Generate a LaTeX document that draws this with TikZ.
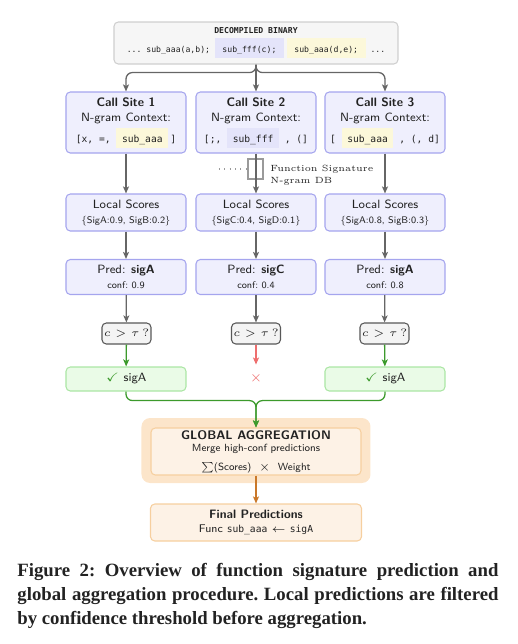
\documentclass[tikz,border=0pt]{standalone}
\usepackage{amssymb}
\usepackage{fontspec}
\setmonofont{DejaVu Sans Mono}
\newfontfamily\capfont{Liberation Serif}
\usetikzlibrary{arrows.meta}

\definecolor{ink}{HTML}{222222}
\definecolor{binFill}{HTML}{F6F6F6}
\definecolor{binEdge}{HTML}{CFCFCF}
\definecolor{siteFill}{HTML}{EFEFFD}
\definecolor{siteEdge}{HTML}{A5A5EE}
\definecolor{hlBlue}{HTML}{E4E4FA}
\definecolor{hlYellow}{HTML}{FCF8DA}
\definecolor{threshFill}{HTML}{F4F4F4}
\definecolor{threshEdge}{HTML}{585858}
\definecolor{okFill}{HTML}{EAFBE7}
\definecolor{okEdge}{HTML}{ABE6A4}
\definecolor{okGreen}{HTML}{3C9A2C}
\definecolor{rejRed}{HTML}{EE6E6E}
\definecolor{aggOuter}{HTML}{FCE5CA}
\definecolor{aggFill}{HTML}{FDF2E6}
\definecolor{aggEdge}{HTML}{F6CF9F}
\definecolor{outOrange}{HTML}{C9782A}
\definecolor{flowGray}{HTML}{666666}
\definecolor{dbGray}{HTML}{9A9A9A}

\newlength\unitpx
\setlength\unitpx{0.4667pt}
\newcommand\hlbox[3][2.6pt]{{\setlength\fboxsep{0pt}\colorbox{#2}{\hspace{#1}\rule[-2.6pt]{0pt}{9.3pt}#3\hspace{#1}}}}
\newcommand\ctxfont{\ttfamily\fontsize{4.5}{5.5}\selectfont}
\newcommand\smallsf{\fontsize{4.5}{5.5}\selectfont}
\newcommand\titlesf{\bfseries\fontsize{5.7}{7}\selectfont}

\begin{document}
\begin{tikzpicture}[x=0.4667pt, y=-0.4667pt,
    every node/.style={text=ink},
    box/.style={draw, rounded corners=2pt, line width=0.5pt, align=center, inner sep=0pt,
      font=\sffamily\fontsize{5.6}{7}\selectfont},
    binbox/.style={box, draw=binEdge, fill=binFill, minimum width=284*\unitpx, minimum height=42*\unitpx,
      font=\ttfamily\fontsize{3.8}{4.8}\selectfont},
    sitebox/.style={box, draw=siteEdge, fill=siteFill, minimum width=120*\unitpx, minimum height=61*\unitpx},
    scorebox/.style={sitebox, minimum height=37*\unitpx},
    predbox/.style={sitebox, minimum height=35*\unitpx},
    threshbox/.style={box, draw=threshEdge, fill=threshFill, minimum width=49*\unitpx, minimum height=21*\unitpx,
      font=\fontsize{5}{6}\selectfont},
    okbox/.style={box, draw=okEdge, fill=okFill, minimum width=120*\unitpx, minimum height=24*\unitpx},
    aggout/.style={draw=none, fill=aggOuter, rounded corners=4pt, minimum width=229*\unitpx, minimum height=65*\unitpx},
    aggbox/.style={box, draw=aggEdge, fill=aggFill, minimum width=210*\unitpx, minimum height=47*\unitpx,
      font=\sffamily\fontsize{4.85}{5.4}\selectfont},
    finalbox/.style={box, draw=aggEdge, fill=aggFill, minimum width=211*\unitpx, minimum height=37*\unitpx,
      font=\sffamily\fontsize{5.2}{6.4}\selectfont},
    tip/.style={-{Stealth[length=3.3pt,width=2.8pt,inset=0.8pt]}},
    flow/.style={draw=flowGray, line width=0.6pt, tip},
    pass/.style={draw=okGreen, line width=0.6pt, tip},
    fail/.style={draw=rejRed, line width=0.6pt, tip},
    toFinal/.style={draw=outOrange, line width=0.6pt, tip},
  ]
  \useasboundingbox (0,0) rectangle (517,644);

  % Decompiled binary
  \node[binbox] (bin) at (256,43) {{\bfseries DECOMPILED BINARY}\\[1pt]
    ... sub\_aaa(a,b); \hlbox[3.5pt]{hlBlue}{sub\_fff(c);}\hspace{1.4pt}\hlbox[3.5pt]{hlYellow}{sub\_aaa(d,e);} ...};

  % Call sites
  \node[sitebox] (cs1) at (126,122.5) {{\titlesf Call Site 1}\\ N-gram Context:\\[1pt]
    {\ctxfont [x, =, \hlbox{hlYellow}{sub\_aaa}\hspace{1pt}]}};
  \node[sitebox] (cs2) at (256,122.5) {{\titlesf Call Site 2}\\ N-gram Context:\\[1pt]
    {\ctxfont [;, \hlbox{hlBlue}{sub\_fff} , (]}};
  \node[sitebox] (cs3) at (385,122.5) {{\titlesf Call Site 3}\\ N-gram Context:\\[1pt]
    {\ctxfont [ \hlbox{hlYellow}{sub\_aaa} , (, d]}};

  % N-gram database
  \node[draw=dbGray, line width=0.5pt, minimum width=15*\unitpx, minimum height=20*\unitpx, inner sep=0pt] (db) at (255.5,169) {};
  \coordinate (dbsrc) at (219,169);
  \draw[dbGray, line width=0.5pt, dotted] (dbsrc) -- (db.west);
  \node[anchor=west, align=left, inner sep=0pt, font=\rmfamily\fontsize{4.2}{5.6}\selectfont] (dblabel) at (270,175)
    {Function Signature\\N-gram DB};

  % Local scores
  \node[scorebox] (ls1) at (126,212.5) {Local Scores\\{\smallsf\{SigA:0.9, SigB:0.2\}}};
  \node[scorebox] (ls2) at (256,212.5) {Local Scores\\{\smallsf\{SigC:0.4, SigD:0.1\}}};
  \node[scorebox] (ls3) at (385,212.5) {Local Scores\\{\smallsf\{SigA:0.8, SigB:0.3\}}};

  % Predictions
  \node[predbox] (pr1) at (126,277) {Pred: \textbf{sigA}\\{\smallsf conf:\ 0.9}};
  \node[predbox] (pr2) at (256,277) {Pred: \textbf{sigC}\\{\smallsf conf:\ 0.4}};
  \node[predbox] (pr3) at (385,277) {Pred: \textbf{sigA}\\{\smallsf conf:\ 0.8}};

  % Threshold checks
  \node[threshbox] (th1) at (126.5,333.5) {$c > \tau\,?$};
  \node[threshbox] (th2) at (256,333.5) {$c > \tau\,?$};
  \node[threshbox] (th3) at (384.5,333.5) {$c > \tau\,?$};

  % Outcomes
  \node[okbox] (ok1) at (126,379) {\textcolor{okGreen}{$\checkmark$}\ sigA};
  \node[text=rejRed, inner sep=0pt, minimum height=26*\unitpx, font=\fontsize{5.6}{7}\selectfont] (rej) at (256,378) {$\times$};
  \node[okbox] (ok3) at (385,379) {\textcolor{okGreen}{$\checkmark$}\ sigA};

  % Global aggregation
  \node[aggout] (aggout) at (256,450.5) {};
  \node[aggbox] (agg) at (256,451.5) {{\bfseries\fontsize{5.8}{7}\selectfont GLOBAL AGGREGATION}\\[0.4pt]
    Merge high-conf predictions\\[3.4pt] $\sum$(Scores)\ \ $\times$\ \ Weight};

  % Final predictions
  \node[finalbox] (final) at (256,522.5) {{\titlesf Final Predictions}\\
    Func {\ctxfont sub\_aaa} $\leftarrow$ {\ctxfont sigA}};

  % Connectors
  \path (bin.south) ++(0,8) coordinate (split);
  \draw[flow, rounded corners=3pt] (bin.south) -- (split) -| (cs1.north);
  \draw[flow, rounded corners=3pt] (bin.south) -- (split) -| (cs3.north);
  \draw[flow] (bin.south) -- (cs2.north);
  \foreach \i in {1,2,3} {
    \draw[flow] (cs\i) -- (ls\i);
    \draw[flow] (ls\i) -- (pr\i);
    \draw[flow] (pr\i) -- (th\i);
  }
  \draw[pass] (th1) -- (ok1);
  \draw[pass] (th3) -- (ok3);
  \draw[fail] (th2) -- (rej);
  \path (aggout.north) ++(0,-17) coordinate (merge);
  \draw[pass, rounded corners=3pt] (ok1.south) |- (merge) -- (agg.north);
  \draw[pass, rounded corners=3pt] (ok3.south) |- (merge) -- (agg.north);
  \draw[toFinal] (agg) -- (final);

  % Caption
  \node[anchor=north west, inner sep=0pt, text width=224.5pt, align=justify,
    font=\capfont\bfseries\fontsize{8.75}{11.2}\selectfont\frenchspacing] (caption) at (17,563)
    {Figure 2: Overview of function signature prediction and\linebreak
     global aggregation procedure. Local predictions are filtered\linebreak
     by confidence threshold before aggregation.};
\end{tikzpicture}
\end{document}
